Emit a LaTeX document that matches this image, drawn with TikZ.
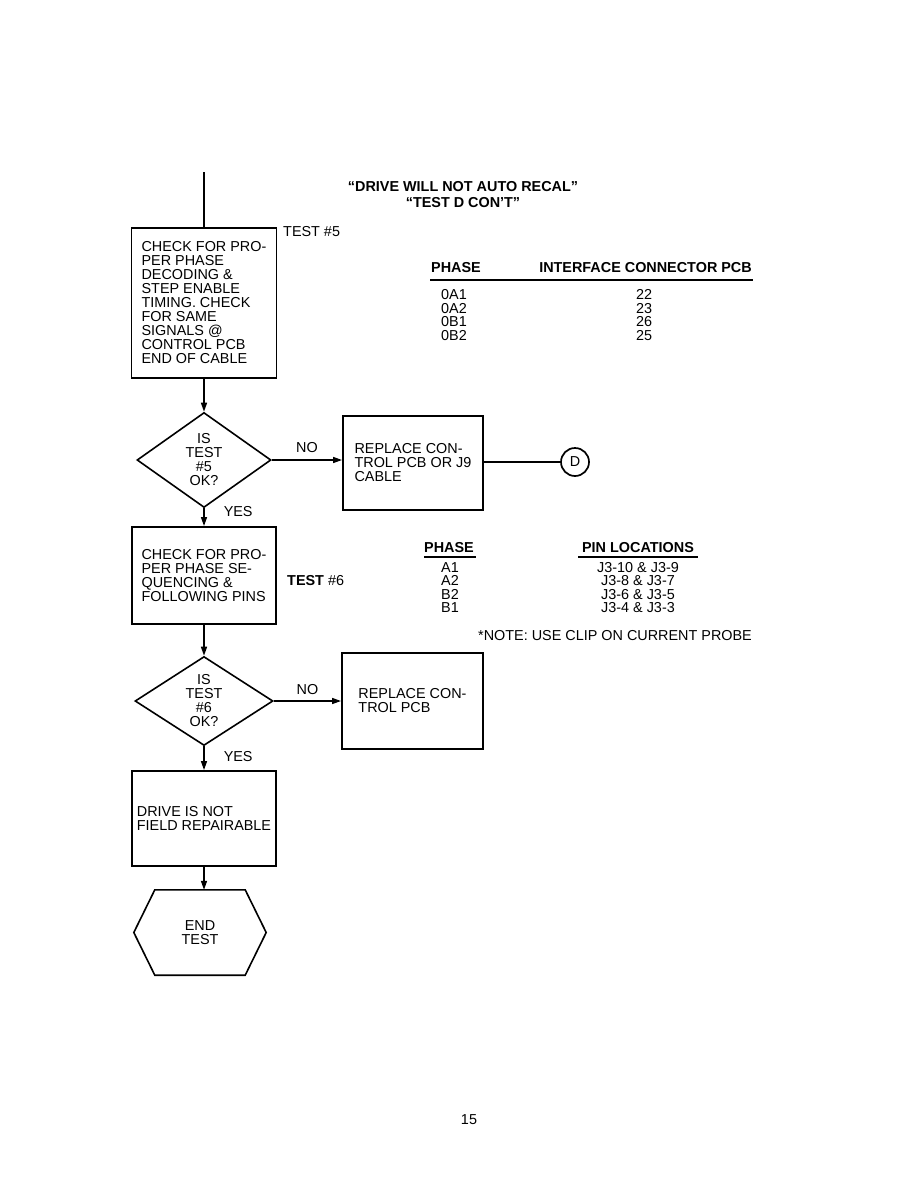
\documentclass[tikz,border=0pt]{standalone}
\usepackage{fontspec}
\setmainfont{Liberation Sans}
\usetikzlibrary{shapes.geometric,arrows.meta,calc}
\begin{document}
\begin{tikzpicture}[x=1pt,y=-1pt,
  every node/.style={font=\fontsize{14.4}{14}\selectfont, inner sep=0pt},
  box/.style={draw, line width=1.9pt, align=left},
  dec/.style={draw, line width=1.6pt, shape=diamond, align=center},
  flow/.style={line width=1.5pt, -{Stealth[length=9pt,width=6pt,inset=0pt]}},
  wire/.style={line width=1.5pt},
  rule/.style={line width=1.8pt},
  hdr/.style={font=\fontsize{14.4}{14}\selectfont\bfseries},
  rows/.style={font=\fontsize{14.4}{13.6}\selectfont}]
\useasboundingbox (0,0) rectangle (918,1188);

% title
\node[hdr, align=center, font=\fontsize{14.4}{16}\selectfont\bfseries] (title) at (463,195) {“DRIVE WILL NOT AUTO RECAL”\\“TEST D CON’T”};

% flow
\coordinate (top) at (204,172);
\node[box, minimum width=145, minimum height=150] (b1) at (204,303)
  {CHECK FOR PRO-\\PER PHASE\\DECODING \&\\STEP ENABLE\\TIMING. CHECK\\FOR SAME\\SIGNALS @\\CONTROL PCB\\END OF CABLE};
\node[anchor=west] (t5) at (283,232) {TEST \#5};

\node[dec, minimum width=134, minimum height=95] (d1) at (204,460) {IS\\TEST\\\#5\\OK?};
\node[box, minimum width=140, minimum height=94] (b2) at (413,463) {REPLACE CON-\\TROL PCB OR J9\\CABLE};
\node[draw, circle, line width=1.7pt, minimum size=28] (D) at (575,462) {D};

\node[box, minimum width=144, minimum height=97] (b3) at (204,575.5)
  {CHECK FOR PRO-\\PER PHASE SE-\\QUENCING \&\\FOLLOWING PINS};
\node[anchor=west] (t6) at (287,581) {\textbf{TEST} \#6};

\node[dec, minimum width=138, minimum height=89] (d2) at (204,701) {IS\\TEST\\\#6\\OK?};
\node[box, minimum width=141, minimum height=96] (b4) at (412.5,701) {REPLACE CON-\\TROL PCB};

\node[box, minimum width=144, minimum height=95] (b5) at (204,818.5) {DRIVE IS NOT\\FIELD REPAIRABLE};

\node[minimum width=132, minimum height=85, align=center] (hex) at (200,932.5) {END\\TEST};
\draw[line width=1.6pt, line join=miter] (hex.west) -- ($(hex.north west)+(21,0)$) -- ($(hex.north east)+(-21,0)$)
  -- (hex.east) -- ($(hex.south east)+(-21,0)$) -- ($(hex.south west)+(21,0)$) -- cycle;

% connectors
\draw[wire] (top) -- (b1.north);
\draw[flow] (b1.south) -- (d1.north);
\draw[flow] (d1.east) -- (d1.east -| b2.west) node[midway, above=7pt] (no1) {NO};
\draw[wire] (D.west -| b2.east) -- (D.west);
\draw[flow] (d1.south) -- (b3.north) node[pos=0.15, anchor=west, xshift=19pt, yshift=-1pt] (yes1) {YES};
\draw[flow] (b3.south) -- (d2.north);
\draw[flow] (d2.east) -- (d2.east -| b4.west) node[midway, above=6pt] (no2) {NO};
\draw[flow] (d2.south) -- (b5.north) node[pos=0.45, anchor=west, xshift=19pt] (yes2) {YES};
\draw[flow] (b5.south) -- (b5.south |- hex.north);

% table 1
\node[hdr, anchor=west] (ph1) at (431,268) {PHASE};
\node[hdr, anchor=east] (ic1) at (752,268) {INTERFACE CONNECTOR PCB};
\draw[rule] (430,280) -- (753,280);
\node[rows, anchor=west, align=left] (c11) at (441,315) {0A1\\0A2\\0B1\\0B2};
\node[rows, align=center] (c12) at (644,315) {22\\23\\26\\25};

% table 2
\node[hdr] (ph2) at (449,548) {PHASE};
\node[hdr] (pl2) at (638,548) {PIN LOCATIONS};
\draw[rule] (424,557) -- (476,557);
\draw[rule] (578,557) -- (698,557);
\node[rows, align=center] (c21) at (450,587.5) {A1\\A2\\B2\\B1};
\node[rows, align=center] (c22) at (638,587.5) {J3-10 \& J3-9\\J3-8 \& J3-7\\J3-6 \& J3-5\\J3-4 \& J3-3};
\node[anchor=west] (note) at (478,636) {*NOTE: USE CLIP ON CURRENT PROBE};

% page number
\node (pg) at (469,1120) {15};
\end{tikzpicture}
\end{document}
